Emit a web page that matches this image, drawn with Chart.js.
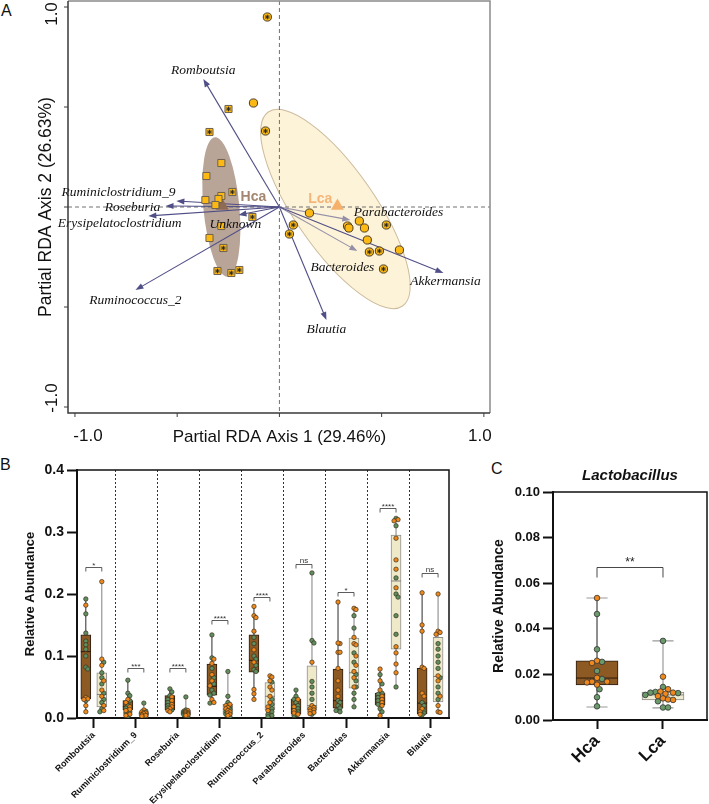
<!DOCTYPE html>
<html><head><meta charset="utf-8">
<script src="https://cdn.jsdelivr.net/npm/chart.js@4/dist/chart.umd.min.js"></script>
<style>
html,body{margin:0;padding:0;background:#fff;width:709px;height:804px;overflow:hidden;position:relative;}
canvas{position:absolute;}
.lbl{position:absolute;font-family:"Liberation Sans",Arial,sans-serif;font-size:16px;color:#111;line-height:16px;}
</style></head><body>
<div class="lbl" style="left:1px;top:3px">A</div>
<div class="lbl" style="left:0px;top:457px">B</div>
<div class="lbl" style="left:491px;top:461px">C</div>
<canvas id="cA" width="500" height="450" style="left:0;top:0"></canvas>
<canvas id="cB" width="460" height="364" style="left:0;top:440px"></canvas>
<canvas id="cC" width="239" height="364" style="left:470px;top:440px"></canvas>
<script>
// ================= DATA =================
// Panel A: partial RDA sample scores
const hcaX = [-0.249,-0.342,-0.284,-0.357,-0.230,-0.284,-0.362,-0.298,-0.313,-0.132,-0.284,-0.342,-0.274,-0.303,-0.235,-0.196];
const hcaY = [0.49,0.375,0.22,0.155,0.075,0.055,0.035,0.04,0.01,-0.05,-0.095,-0.155,-0.205,-0.32,-0.33,-0.315];
const hcaStar = [1,1,0,0,1,0,0,0,0,1,0,0,1,1,1,1];
const lcaX = [-0.059,-0.127,-0.068,0.147,0.068,0.049,0.333,0.34,0.391,0.416,0.523,0.430,0.440,0.489,0.587,0.509];
const lcaY = [0.95,0.52,0.38,-0.03,-0.09,-0.135,-0.095,-0.105,-0.07,-0.105,-0.09,-0.165,-0.225,-0.22,-0.215,-0.31];
const lcaStar = [1,0,1,0,1,1,0,0,0,0,1,0,1,1,0,1];
const centroidX = [-0.279, 0.284];
const centroidY = [0.005, 0.005];
const groupNames = ['Hca','Lca'];
const groupLabelX = [-0.127, 0.2];
const groupLabelY = [0.05, 0.04];
// species biplot arrows
const speciesNames = ['Romboutsia','Ruminiclostridium_9','Roseburia','Erysipelatoclostridium','Unknown','Ruminococcus_2','Blautia','Bacteroides','Parabacteroides','Akkermansia'];
const arrowX = [-0.372,-0.504,-0.557,-0.641,-0.200,-0.704,0.230,0.381,0.347,0.802];
const arrowY = [0.640,0.030,0.005,-0.045,-0.040,-0.415,-0.565,-0.220,-0.065,-0.330];
const arrowGray = [0,0,0,0,0,0,0,1,1,0];
const labelX = [-0.372,-0.787,-0.719,-0.782,-0.215,-0.704,0.230,0.308,0.582,0.812];
const labelY = [0.685,0.075,0.000,-0.080,-0.085,-0.465,-0.610,-0.300,-0.025,-0.370];
// confidence ellipses [cx, cy, semiA, semiB, rotationDeg]
const ellipseHca = [-0.284, 0.0, 0.088, 0.342, -5.3];
const ellipseLca = [0.274, -0.01, 0.577, 0.196, 55.3];
const axisTitleA_X = 'Partial RDA Axis 1 (29.46%)';
const axisTitleA_Y = 'Partial RDA Axis 2 (26.63%)';
const tickValsA = [-1, -0.5, 0, 0.5, 1];
const tickLabelsA = ['-1.0', '1.0'];

// Panel B: box plots  [min, q1, median, q3, max]
const catsB = ['Romboutsia','Ruminiclostridium_9','Roseburia','Erysipelatoclostridium','Ruminococcus_2','Parabacteroides','Bacteroides','Akkermansia','Blautia'];
const hcaStats = [
  [0.010,0.031,0.107,0.134,0.192],[0.003,0.013,0.018,0.028,0.061],[0.010,0.013,0.021,0.036,0.047],
  [0.024,0.037,0.051,0.087,0.134],[0.030,0.074,0.093,0.134,0.180],[0.003,0.006,0.015,0.030,0.045],
  [0.009,0.016,0.028,0.079,0.187],[0.004,0.021,0.030,0.040,0.079],[0.005,0.007,0.024,0.080,0.202]];
const lcaStats = [
  [0.009,0.018,0.038,0.073,0.220],[0.002,0.004,0.007,0.010,0.024],[0.003,0.005,0.008,0.012,0.034],
  [0.002,0.006,0.014,0.022,0.075],[0.002,0.013,0.035,0.057,0.068],[0.006,0.013,0.020,0.084,0.234],
  [0.018,0.048,0.073,0.129,0.177],[0.050,0.111,0.221,0.295,0.322],[0.008,0.026,0.067,0.130,0.200]];
const hcaOrange = [
  [0.182,0.033,0.031,0.03,0.02,0.01],[0.03,0.025,0.018,0.014,0.012,0.006,0.004],[0.034,0.028,0.022,0.018,0.015,0.012,0.01],
  [0.095,0.088,0.07,0.06,0.052,0.03,0.025],[0.18,0.165,0.162,0.14,0.11,0.09,0.046,0.039,0.03],[0.03,0.018,0.012,0.008,0.006],
  [0.187,0.12,0.121,0.106,0.106,0.08,0.06,0.045,0.035],[0.079,0.06,0.045,0.035,0.03,0.025,0.02,0.004],[0.202,0.15,0.14,0.082,0.08,0.04,0.035,0.015,0.01,0.006]];
const hcaGreen = [
  [0.192,0.168,0.137,0.124,0.118,0.111,0.1,0.082,0.079,0.028],[0.061,0.04,0.036,0.028,0.02,0.016,0.01,0.008,0.003],[0.047,0.042,0.036,0.03,0.025,0.02,0.016,0.013],
  [0.134,0.097,0.08,0.065,0.055,0.045,0.04,0.037,0.024],[0.13,0.12,0.1,0.095,0.085,0.078,0.075],[0.045,0.035,0.03,0.025,0.02,0.015,0.01,0.008,0.005,0.004],
  [0.028,0.025,0.02,0.016,0.012,0.01],[0.07,0.055,0.04,0.038,0.033,0.028,0.022,0.015,0.01],[0.025,0.02,0.012,0.008,0.005]];
const lcaOrange = [
  [0.22,0.095,0.085,0.06,0.045,0.035,0.02,0.012],[0.013,0.01,0.009,0.008,0.007,0.005,0.004,0.003],[0.012,0.01,0.009,0.008,0.007,0.006,0.005,0.004],
  [0.022,0.02,0.017,0.015,0.012,0.01,0.008,0.006,0.004],[0.068,0.066,0.06,0.05,0.045,0.035,0.025,0.018,0.012],[0.09,0.02,0.017,0.015,0.013,0.011,0.009,0.007],
  [0.177,0.175,0.13,0.12,0.118,0.1,0.085,0.075,0.065,0.05],[0.32,0.318,0.29,0.255,0.24,0.21,0.115,0.105,0.087,0.073],[0.2,0.14,0.138,0.135,0.068,0.06,0.035,0.02,0.01,0.009]];
const lcaGreen = [
  [0.09,0.073,0.065,0.055,0.04,0.03,0.025,0.015,0.01],[0.024,0.011,0.008,0.006,0.005,0.004,0.003,0.002],[0.034,0.013,0.011,0.009,0.007,0.005,0.003],
  [0.075,0.035,0.025,0.018,0.014,0.01,0.006,0.002],[0.058,0.03,0.022,0.015,0.01,0.006,0.004,0.002],[0.234,0.125,0.121,0.059,0.05,0.04,0.03,0.006],
  [0.165,0.145,0.105,0.09,0.07,0.06,0.05,0.04,0.03,0.018],[0.322,0.31,0.226,0.2,0.195,0.165,0.135,0.05],[0.12,0.111,0.1,0.09,0.08,0.065,0.05,0.04,0.03]];
const sigTextB = ['*','***','****','****','****','ns','*','****','ns'];
const sigLevelB = [0.244,0.080,0.080,0.158,0.195,0.248,0.203,0.339,0.234];
const yTitleB = 'Relative Abundance';

// Panel C: Lactobacillus
const catsC = ['Hca','Lca'];
const statsC = [[0.0057,0.0154,0.0184,0.0259,0.0535],[0.0053,0.0088,0.0110,0.0123,0.0347]];
const orangeC = [[0.0535,0.026,0.025,0.0185,0.0168,0.0168,0.0165,0.0155],[0.019,0.0135,0.0125,0.0115,0.0105,0.0095,0.009,0.0088,0.012]];
const greenC = [[0.0465,0.031,0.0255,0.0215,0.018,0.0135,0.010,0.006],[0.0347,0.0145,0.0123,0.0118,0.012,0.011,0.0082,0.0055,0.0055]];
const sigTextC = '**';
const sigLevelC = 0.067;
const titleC = 'Lactobacillus';

// ================= HELPERS =================
Chart.defaults.font.family = '"Liberation Sans", Arial, sans-serif';
Chart.defaults.color = '#111';
const SANS = '"Liberation Sans", Arial, sans-serif';
const SERIF = '"Liberation Serif", "Times New Roman", serif';
const ORANGE = '#F0881C', GREEN = '#5F8E5F';

function swarm(vals, pxY, pxX, r, maxPx, minSep) {
  const n = vals.length, offs = new Array(n), placed = [];
  const idx = vals.map((v,i)=>i).sort((a,b)=>vals[b]-vals[a]);
  const step = r*0.9, cands=[0];
  for (let k=1; k*step<=maxPx; k++) cands.push(k*step, -k*step);
  for (const i of idx) {
    const py = vals[i]*pxY; let best=0, bestD=-1;
    for (const c of cands) {
      let dmin = Infinity;
      for (const p of placed) { const d=Math.hypot(p.x-c,p.y-py); if (d<dmin) dmin=d; }
      if (dmin >= minSep) { best=c; break; }
      if (dmin > bestD) { bestD=dmin; best=c; }
    }
    placed.push({x:best,y:py}); offs[i]=best/pxX;
  }
  return offs;
}
function buildPts(center, ora, gre, pxY, pxX, r, maxPx, minSep, outO, outG) {
  const vals = ora.concat(gre);
  const offs = swarm(vals, pxY, pxX, r, maxPx, minSep);
  vals.forEach((v,k)=>{ (k<ora.length?outO:outG).push({x:center+offs[k], y:v}); });
}

// ================= PANEL A =================
const ptsSq = hcaX.map((x,i)=>({x, y:hcaY[i]}));
const ptsCi = lcaX.map((x,i)=>({x, y:lcaY[i]}));
const starPts = ptsSq.filter((p,i)=>hcaStar[i]).concat(ptsCi.filter((p,i)=>lcaStar[i]));

function drawEllipse(ctx, sx, sy, e, fill, stroke) {
  ctx.save();
  ctx.translate(sx.getPixelForValue(e[0]), sy.getPixelForValue(e[1]));
  ctx.rotate(e[4]*Math.PI/180);
  const k = sx.getPixelForValue(1)-sx.getPixelForValue(0);
  ctx.beginPath(); ctx.ellipse(0,0,e[2]*k,e[3]*k,0,0,Math.PI*2);
  ctx.fillStyle = fill; ctx.fill();
  if (stroke) { ctx.strokeStyle=stroke; ctx.lineWidth=1; ctx.stroke(); }
  ctx.restore();
}
const pluginA = {
  id:'pA',
  beforeDatasetsDraw(chart) {
    const {ctx, chartArea:ca, scales:{x,y}} = chart;
    ctx.save();
    drawEllipse(ctx, x, y, ellipseLca, '#FDF3D8', '#CDBB9C');
    drawEllipse(ctx, x, y, ellipseHca, '#B8A598', null);
    const x0=x.getPixelForValue(0), y0=y.getPixelForValue(0);
    ctx.strokeStyle='#707070'; ctx.lineWidth=1; ctx.setLineDash([4,3]);
    ctx.beginPath(); ctx.moveTo(x0,ca.top); ctx.lineTo(x0,ca.bottom);
    ctx.moveTo(ca.left,y0); ctx.lineTo(ca.right,y0); ctx.stroke();
    ctx.setLineDash([]);
    speciesNames.forEach((n,i)=>{
      const ex=x.getPixelForValue(arrowX[i]), ey=y.getPixelForValue(arrowY[i]);
      const col = arrowGray[i] ? '#9590A8' : '#504E86';
      const ang = Math.atan2(ey-y0, ex-x0), L=8, W=3;
      ctx.strokeStyle=col; ctx.fillStyle=col; ctx.lineWidth=1.1;
      ctx.beginPath(); ctx.moveTo(x0,y0); ctx.lineTo(ex-Math.cos(ang)*L*0.6, ey-Math.sin(ang)*L*0.6); ctx.stroke();
      ctx.beginPath(); ctx.moveTo(ex,ey);
      ctx.lineTo(ex-Math.cos(ang)*L-Math.sin(ang)*W, ey-Math.sin(ang)*L+Math.cos(ang)*W);
      ctx.lineTo(ex-Math.cos(ang)*L+Math.sin(ang)*W, ey-Math.sin(ang)*L-Math.cos(ang)*W);
      ctx.closePath(); ctx.fill();
    });
    ctx.restore();
  },
  afterDatasetsDraw(chart) {
    const {ctx, chartArea:ca, scales:{x,y}} = chart;
    ctx.save();
    ctx.font = 'italic 13.5px '+SERIF; ctx.fillStyle='#111'; ctx.textAlign='center'; ctx.textBaseline='middle';
    speciesNames.forEach((n,i)=>ctx.fillText(n, x.getPixelForValue(labelX[i]), y.getPixelForValue(labelY[i])));
    ctx.font = 'bold 14px '+SANS;
    ['#A48670','#F4B678'].forEach((c,i)=>{ ctx.fillStyle=c; ctx.fillText(groupNames[i], x.getPixelForValue(groupLabelX[i]), y.getPixelForValue(groupLabelY[i])); });
    ctx.lineWidth=1.5; ctx.strokeStyle='#8a8a8a';
    ctx.beginPath(); ctx.moveTo(ca.left,ca.top); ctx.lineTo(ca.right,ca.top); ctx.lineTo(ca.right,ca.bottom); ctx.stroke();
    ctx.strokeStyle='#3a3a3a';
    ctx.beginPath(); ctx.moveTo(ca.left,ca.top); ctx.lineTo(ca.left,ca.bottom); ctx.lineTo(ca.right,ca.bottom); ctx.stroke();
    ctx.lineWidth=1;
    ctx.beginPath();
    tickValsA.forEach(v=>{
      const px=x.getPixelForValue(v), py=y.getPixelForValue(v);
      ctx.moveTo(px,ca.bottom); ctx.lineTo(px,ca.bottom+4);
      ctx.moveTo(ca.left-4,py); ctx.lineTo(ca.left,py);
    });
    ctx.stroke();
    ctx.fillStyle='#111'; ctx.font='17px '+SANS; ctx.textAlign='center'; ctx.textBaseline='middle';
    ctx.fillText(tickLabelsA[0], x.getPixelForValue(-1)+13, 436);
    ctx.fillText(tickLabelsA[1], x.getPixelForValue(1)-4, 436);
    ctx.fillText(axisTitleA_X, x.getPixelForValue(0), 437);
    const rot=(t,px,py)=>{ ctx.save(); ctx.translate(px,py); ctx.rotate(-Math.PI/2); ctx.fillText(t,0,0); ctx.restore(); };
    rot(tickLabelsA[1], 52, y.getPixelForValue(1)+7);
    rot(tickLabelsA[0], 52, y.getPixelForValue(-1)-9);
    ctx.font='17.5px '+SANS;
    rot(axisTitleA_Y, 46, y.getPixelForValue(0));
    ctx.restore();
  }
};
new Chart(document.getElementById('cA'), {
  type:'scatter',
  data:{datasets:[
    {data:starPts, pointStyle:'star', pointRadius:2.3, borderColor:'#2a2a2a', borderWidth:1, backgroundColor:'#2a2a2a', order:1},
    {data:ptsSq, pointStyle:'rect', pointRadius:5, backgroundColor:'#FDB913', borderColor:'#6E6150', borderWidth:1, order:2},
    {data:ptsCi, pointStyle:'circle', pointRadius:4.1, backgroundColor:'#FDB913', borderColor:'#4A3C20', borderWidth:1, order:3},
    {data:centroidX.map((cx,i)=>({x:cx,y:centroidY[i]})), pointStyle:'triangle', pointRadius:7.5,
      backgroundColor:['#8E6B55','#F5B06C'], borderWidth:0, order:4}
  ]},
  options:{responsive:false, animation:false, events:[],
    layout:{autoPadding:false, padding:{left:68, top:1, right:10, bottom:37}},
    plugins:{legend:{display:false}, tooltip:{enabled:false}},
    scales:{x:{type:'linear', min:-1.034, max:1.03, display:false}, y:{type:'linear', min:-1.03, max:1.03, display:false}}
  },
  plugins:[pluginA]
});

// ================= PANEL B =================
const OFF = 0.19;
const bHO=[], bHG=[], bLO=[], bLG=[];
catsB.forEach((c,i)=>{
  buildPts(i-OFF, hcaOrange[i], hcaGreen[i], 620, 42, 2.2, 3.5, 3.6, bHO, bHG);
  buildPts(i+OFF, lcaOrange[i], lcaGreen[i], 620, 42, 2.2, 3.5, 3.6, bLO, bLG);
});
function fixedTicks(vals){ return scale=>{ scale.ticks = vals.map(v=>({value:v})); }; }
const pluginB = {
  id:'pB',
  beforeDatasetsDraw(chart) {
    const {ctx, chartArea:ca, scales:{x,y}} = chart;
    ctx.save();
    ctx.strokeStyle='#333'; ctx.lineWidth=1; ctx.setLineDash([2,2]);
    ctx.beginPath();
    for (let i=0;i<catsB.length-1;i++){ const px=Math.round(x.getPixelForValue(i+0.5))+0.5; ctx.moveTo(px,ca.top); ctx.lineTo(px,ca.bottom); }
    ctx.stroke(); ctx.setLineDash([]);
    [[hcaStats,-OFF,'#2b2b2b'],[lcaStats,OFF,'#808080']].forEach(([st,o,col])=>{
      ctx.strokeStyle=col; ctx.lineWidth=1; ctx.beginPath();
      st.forEach((s,i)=>{ const px=x.getPixelForValue(i+o); ctx.moveTo(px,y.getPixelForValue(s[0])); ctx.lineTo(px,y.getPixelForValue(s[4])); });
      ctx.stroke();
    });
    ctx.restore();
  },
  afterDatasetDraw(chart, args) {
    if (args.index>1) return;
    const {ctx, scales:{x,y}} = chart;
    const st = args.index===0?hcaStats:lcaStats, o = args.index===0?-OFF:OFF;
    ctx.save(); ctx.strokeStyle = args.index===0?'#2a1a0a':'#808080'; ctx.lineWidth=1; ctx.beginPath();
    st.forEach((s,i)=>{ const px=x.getPixelForValue(i+o), py=y.getPixelForValue(s[2]); ctx.moveTo(px-5,py); ctx.lineTo(px+5,py); });
    ctx.stroke(); ctx.restore();
  },
  afterDraw(chart) {
    const {ctx, chartArea:ca, scales:{x,y}} = chart;
    ctx.save();
    ctx.strokeStyle='#111'; ctx.lineWidth=1.5;
    ctx.beginPath(); ctx.moveTo(ca.left,ca.top); ctx.lineTo(ca.right,ca.top); ctx.lineTo(ca.right,ca.bottom); ctx.stroke();
    ctx.lineWidth=0.8; ctx.strokeStyle='#333'; ctx.fillStyle='#333';
    ctx.font='8px '+SANS; ctx.textAlign='center'; ctx.textBaseline='alphabetic';
    sigTextB.forEach((t,i)=>{
      const x1=x.getPixelForValue(i-OFF), x2=x.getPixelForValue(i+OFF), py=Math.round(y.getPixelForValue(sigLevelB[i]))+0.5;
      ctx.beginPath(); ctx.moveTo(x1,py+4); ctx.lineTo(x1,py); ctx.lineTo(x2,py); ctx.lineTo(x2,py+4); ctx.stroke();
      ctx.fillText(t,(x1+x2)/2, py-(t==='ns'?2:0));
    });
    ctx.restore();
  }
};
const ptDs = (data,col)=>({type:'scatter', data, pointRadius:2.2, backgroundColor:col, borderColor:'#3a3020', borderWidth:0.7, order:1});
new Chart(document.getElementById('cB'), {
  type:'bar',
  data:{datasets:[
    {data:catsB.map((c,i)=>({x:i-OFF, y:[hcaStats[i][1],hcaStats[i][3]]})), backgroundColor:'#8E5A24', borderColor:'#2a1d12', borderWidth:1, borderSkipped:false, barThickness:10, grouped:false, order:3},
    {data:catsB.map((c,i)=>({x:i+OFF, y:[lcaStats[i][1],lcaStats[i][3]]})), backgroundColor:'#EEE9C9', borderColor:'#8f8f8f', borderWidth:1, borderSkipped:false, barThickness:10, grouped:false, order:3},
    ptDs(bHO,ORANGE), ptDs(bHG,GREEN), ptDs(bLO,ORANGE), ptDs(bLG,GREEN)
  ]},
  options:{responsive:false, animation:false, events:[],
    layout:{autoPadding:false, padding:{left:0, top:30, right:11, bottom:0}},
    plugins:{legend:{display:false}, tooltip:{enabled:false}},
    scales:{
      x:{type:'linear', min:-0.4, max:8.45, offset:false,
        afterBuildTicks: fixedTicks(catsB.map((c,i)=>i)),
        afterFit(s){ s.height=86; },
        ticks:{autoSkip:false, minRotation:45, maxRotation:45, padding:2, color:'#111', font:{size:9, weight:'bold'}, callback:(v)=>catsB[v]},
        grid:{display:true, drawOnChartArea:false, offset:false, tickLength:10, tickColor:'#111', tickWidth:2},
        border:{display:true, color:'#111', width:2}},
      y:{type:'linear', min:0, max:0.4,
        afterBuildTicks: fixedTicks([0,0.1,0.2,0.3,0.4]),
        afterFit(s){ s.width=77; },
        ticks:{padding:3, color:'#111', font:{size:14, weight:'bold'}, callback:(v)=>v.toFixed(1)},
        grid:{drawOnChartArea:false, tickLength:10, tickColor:'#111', tickWidth:2},
        border:{display:true, color:'#111', width:2},
        title:{display:true, text:yTitleB, color:'#111', font:{size:13, weight:'bold'}, padding:{top:23, bottom:0}}}
    }
  },
  plugins:[pluginB]
});

// ================= PANEL C =================
const cO=[], cG=[];
catsC.forEach((c,i)=>buildPts(i, orangeC[i], greenC[i], 2280, 66, 2.8, 19, 4.8, cO, cG));
const pluginC = {
  id:'pC',
  beforeDatasetsDraw(chart) {
    const {ctx, scales:{x,y}} = chart;
    ctx.save();
    statsC.forEach((s,i)=>{
      const px=x.getPixelForValue(i), hw=x.getPixelForValue(0.16)-x.getPixelForValue(0);
      ctx.strokeStyle = i===0?'#444':'#9a9a9a'; ctx.lineWidth=1.2;
      ctx.beginPath(); ctx.moveTo(px,y.getPixelForValue(s[0])); ctx.lineTo(px,y.getPixelForValue(s[4])); ctx.stroke();
      ctx.strokeStyle='#9a9a9a';
      ctx.beginPath();
      [s[0],s[4]].forEach(v=>{ const py=y.getPixelForValue(v); ctx.moveTo(px-hw,py); ctx.lineTo(px+hw,py); });
      ctx.stroke();
    });
    ctx.restore();
  },
  afterDatasetDraw(chart, args) {
    if (args.index>1) return;
    const {ctx, scales:{x,y}} = chart;
    const s=statsC[args.index], px=x.getPixelForValue(args.index), py=y.getPixelForValue(s[2]);
    ctx.save(); ctx.strokeStyle=args.index===0?'#2a1a0a':'#8a8a8a'; ctx.lineWidth=1;
    ctx.beginPath(); ctx.moveTo(px-21,py); ctx.lineTo(px+21,py); ctx.stroke(); ctx.restore();
  },
  afterDraw(chart) {
    const {ctx, chartArea:ca, scales:{x,y}} = chart;
    ctx.save();
    ctx.strokeStyle='#111'; ctx.lineWidth=1.5;
    ctx.beginPath(); ctx.moveTo(ca.left,ca.top); ctx.lineTo(ca.right,ca.top); ctx.lineTo(ca.right,ca.bottom); ctx.stroke();
    const x1=x.getPixelForValue(0), x2=x.getPixelForValue(1), py=Math.round(y.getPixelForValue(sigLevelC))+0.5;
    ctx.strokeStyle='#333'; ctx.lineWidth=0.9;
    ctx.beginPath(); ctx.moveTo(x1,py+10); ctx.lineTo(x1,py); ctx.lineTo(x2,py); ctx.lineTo(x2,py+10); ctx.stroke();
    ctx.fillStyle='#222'; ctx.font='12px '+SANS; ctx.textAlign='center'; ctx.textBaseline='alphabetic';
    ctx.fillText(sigTextC,(x1+x2)/2,py-2);
    ctx.font='bold italic 15px '+SANS; ctx.fillStyle='#111'; ctx.textBaseline='middle';
    ctx.fillText(titleC,(ca.left+ca.right)/2, 36);
    ctx.restore();
  }
};
const ptDsC = (data,col)=>({type:'scatter', data, pointRadius:2.8, backgroundColor:col, borderColor:'#333', borderWidth:0.8, order:1});
new Chart(document.getElementById('cC'), {
  type:'bar',
  data:{datasets:[
    {data:[{x:0, y:[statsC[0][1],statsC[0][3]]}], backgroundColor:'#8E5A24', borderColor:'#2a1d12', borderWidth:1, borderSkipped:false, barThickness:42, grouped:false, order:3},
    {data:[{x:1, y:[statsC[1][1],statsC[1][3]]}], backgroundColor:'#EEEBD0', borderColor:'#8a8a8a', borderWidth:1, borderSkipped:false, barThickness:42, grouped:false, order:3},
    ptDsC(cO,ORANGE), ptDsC(cG,'#6A9A6A')
  ]},
  options:{responsive:false, animation:false, events:[],
    layout:{autoPadding:false, padding:{left:0, top:52, right:2, bottom:0}},
    plugins:{legend:{display:false}, tooltip:{enabled:false}},
    scales:{
      x:{type:'linear', min:-0.667, max:1.667, offset:false,
        afterBuildTicks: fixedTicks([0,1]),
        afterFit(s){ s.height=84; },
        ticks:{autoSkip:false, minRotation:45, maxRotation:45, padding:2, color:'#111', font:{size:17, weight:'bold'}, callback:(v)=>catsC[v]},
        grid:{display:true, drawOnChartArea:false, offset:false, tickLength:9, tickColor:'#111', tickWidth:2},
        border:{display:true, color:'#111', width:2}},
      y:{type:'linear', min:0, max:0.1,
        afterBuildTicks: fixedTicks([0,0.02,0.04,0.06,0.08,0.1]),
        afterFit(s){ s.width=83; },
        ticks:{padding:3, color:'#111', font:{size:13, weight:'bold'}, callback:(v)=>v.toFixed(2)},
        grid:{drawOnChartArea:false, tickLength:10, tickColor:'#111', tickWidth:2},
        border:{display:true, color:'#111', width:2},
        title:{display:true, text:yTitleB, color:'#111', font:{size:14, weight:'bold'}, padding:{top:21, bottom:0}}}
    }
  },
  plugins:[pluginC]
});
</script>
</body></html>
